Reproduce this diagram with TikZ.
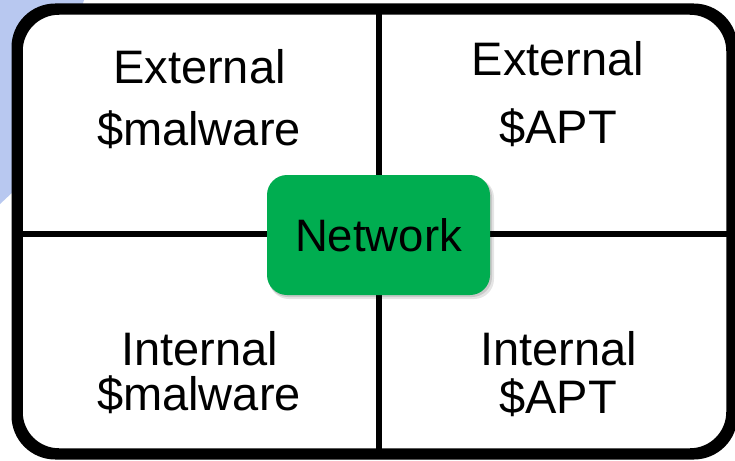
\documentclass[tikz,border=0pt]{standalone}
\usepackage{fontspec}
\setmainfont{Liberation Sans}
\definecolor{bgblue}{RGB}{184,200,240}
\definecolor{netgreen}{RGB}{0,173,80}
\begin{document}
\begin{tikzpicture}[x=1pt,y=-1pt,
  lbl/.style={font=\fontsize{47}{50}\selectfont, anchor=base, inner sep=0pt},
  gridline/.style={line width=6pt, black},
  framebox/.style={draw=black, line width=7.5pt, fill=white, rounded corners=40pt, minimum width=711pt, minimum height=441pt, inner sep=0pt},
  netbox/.style={fill=netgreen, rounded corners=20pt, minimum width=223pt, minimum height=120pt, inner sep=0pt, font=\fontsize{45.5}{50}\selectfont}
]
\useasboundingbox (0,0) rectangle (735,460);
\fill[white] (0,0) rectangle (735,460);
\fill[bgblue] (0,0) -- (84,0) .. controls (60,80) and (30,170) .. (15,190) -- (0,204) -- cycle;
% soft shadow of frame
\fill[black, opacity=0.08, rounded corners=40pt] (14,15) rectangle (735,458);
\node[framebox] (frame) at (374.5,231.5) {};
\coordinate (ctr) at (378.5,234);
\draw[gridline] (frame.north -| ctr) -- (frame.south -| ctr);
\draw[gridline] (frame.west |- ctr) -- (frame.east |- ctr);
\draw[line width=7.5pt, rounded corners=40pt] (frame.north west) rectangle (frame.south east);
% labels
\node[lbl] (tl1) at (199.5,83) {External};
\node[lbl] (tl2) at (199,145) {\$malware};
\node[lbl] (tr1) at (558,75) {External};
\node[lbl] (tr2) at (558,143) {\$APT};
\node[lbl] (bl1) at (199.5,365) {Internal};
\node[lbl] (bl2) at (199,410) {\$malware};
\node[lbl] (br1) at (558.5,365) {Internal};
\node[lbl] (br2) at (558,413) {\$APT};
% network box with shadow
\fill[black, opacity=0.10, rounded corners=20pt] (269,178) rectangle (494,299);
\fill[black, opacity=0.12, rounded corners=20pt] (268,177) rectangle (492,297);
\node[netbox] (net) at (378.5,235) {Network};
\end{tikzpicture}
\end{document}
